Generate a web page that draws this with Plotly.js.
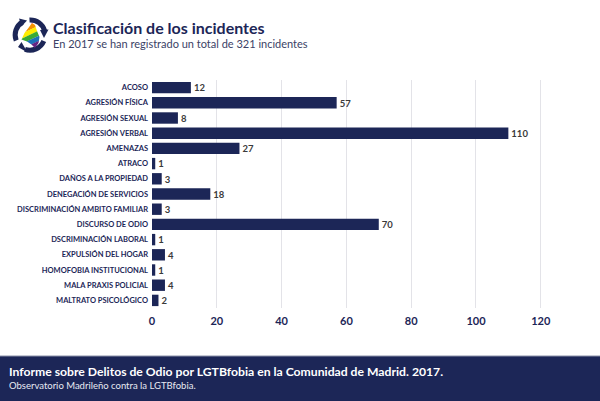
<!DOCTYPE html>
<html>
<head>
<meta charset="utf-8">
<script src="https://cdn.plot.ly/plotly-3.0.1.min.js"></script>
<style>
html,body{margin:0;padding:0;background:#fff;}
#chart{width:600px;height:401px;}
</style>
</head>
<body>
<div id="chart"></div>
<script>
const categories = [
  "ACOSO","AGRESIÓN FÍSICA","AGRESIÓN SEXUAL","AGRESIÓN VERBAL","AMENAZAS","ATRACO",
  "DAÑOS A LA PROPIEDAD","DENEGACIÓN DE SERVICIOS","DISCRIMINACIÓN AMBITO FAMILIAR",
  "DISCURSO DE ODIO","DSCRIMINACIÓN LABORAL","EXPULSIÓN DEL HOGAR",
  "HOMOFOBIA INSTITUCIONAL","MALA PRAXIS POLICIAL","MALTRATO PSICOLÓGICO"
];
const values = [12,57,8,110,27,1,3,18,3,70,1,4,1,4,2];
const xTicks = [0,20,40,60,80,100,120];

const NAVY = "#1c2657";
const L = 152, R = 544, T = 80, B = 308;
const W = 600, H = 401;
const px = x => (x - L) / (R - L);
const py = y => (B - y) / (B - T);

const stripeColors = ["#e52421","#f39200","#ffed00","#3aaa35","#1d71b8","#662483"];
const stripes = stripeColors.map((c, i) =>
  `<rect x="0" y="${6 + i * 4.6}" width="40" height="4.7" fill="${c}"/>`).join("");
const logoSvg = `<svg xmlns="http://www.w3.org/2000/svg" viewBox="0 0 40 40" width="40" height="40">
<defs>
<clipPath id="m"><polygon points="22,8 25,10 27,16 29.5,22 28.5,28 25,33 21.5,29.5 17,26.5 11.5,24.5 14.5,18 18,13.5"/></clipPath>
</defs>
<g fill="none" stroke="${NAVY}" stroke-width="5">
<path d="M 6.2 25.5 A 15 15 0 0 1 12.5 7"/>
<path d="M 19.5 5 A 15 15 0 0 1 34.7 16"/>
<path d="M 33.8 26 A 15 15 0 0 1 15 34.3"/>
</g>
<g fill="${NAVY}">
<polygon points="9,3.5 17,5.5 11.5,11.5"/>
<polygon points="34,23 38.5,14.5 30,15"/>
<polygon points="8,32 17.5,37.5 11.5,27"/>
</g>
<g clip-path="url(#m)"><g transform="rotate(-25 20 20)">${stripes}</g></g>
</svg>`;
const logoUri = "data:image/svg+xml;base64," + btoa(logoSvg);

const trace = {
  type: "bar",
  orientation: "h",
  x: values,
  y: categories,
  marker: { color: NAVY },
  text: values.map(String),
  textposition: "outside",
  cliponaxis: false,
  textfont: { family: "Lato, sans-serif", size: 10, color: "#3a3a3a", weight: 700 },
  hoverinfo: "x+y"
};

const layout = {
  width: W, height: H,
  margin: { l: L, r: W - R, t: T, b: H - B, pad: 0 },
  paper_bgcolor: "#ffffff",
  plot_bgcolor: "#ffffff",
  showlegend: false,
  bargap: 0.25,
  xaxis: {
    range: [0, 121],
    tickvals: xTicks,
    ticktext: xTicks.map(String),
    showgrid: true, gridcolor: "#e3e3e8", gridwidth: 1,
    zeroline: false, showline: false, ticks: "",
    ticklabelstandoff: 5,
    tickfont: { family: "Lato, sans-serif", size: 11, color: NAVY, weight: 700 },
    fixedrange: true
  },
  yaxis: {
    categoryorder: "array",
    categoryarray: categories,
    autorange: "reversed",
    showgrid: false, zeroline: false, showline: false, ticks: "",
    ticklabelstandoff: 3,
    tickfont: { family: "Lato, sans-serif", size: 7.5, color: NAVY, weight: 700 },
    fixedrange: true
  },
  images: [{
    source: logoUri, xref: "paper", yref: "paper",
    x: px(10), y: py(15), sizex: px(50) - px(10), sizey: py(15) - py(55),
    xanchor: "left", yanchor: "top", sizing: "contain", layer: "above"
  }],
  shapes: [
    { type: "rect", xref: "paper", yref: "paper", x0: px(0), x1: px(600), y0: py(401), y1: py(356),
      fillcolor: NAVY, line: { width: 0 }, layer: "below" },
    { type: "line", xref: "paper", yref: "paper", x0: px(0), x1: px(600), y0: py(356), y1: py(356),
      line: { color: "#8a90a8", width: 1 } }
  ],
  annotations: [
    { xref: "paper", yref: "paper", x: px(51), y: py(27), xanchor: "left", yanchor: "middle",
      text: "Clasificación de los incidentes", showarrow: false,
      font: { family: "Lato, sans-serif", size: 16, color: NAVY, weight: 700 } },
    { xref: "paper", yref: "paper", x: px(51), y: py(43), xanchor: "left", yanchor: "middle",
      text: "En 2017 se han registrado un total de 321 incidentes", showarrow: false,
      font: { family: "Lato, sans-serif", size: 11, color: "#3b4266" } },
    { xref: "paper", yref: "paper", x: px(7), y: py(371), xanchor: "left", yanchor: "middle",
      text: "Informe sobre Delitos de Odio por LGTBfobia en la Comunidad de Madrid. 2017.", showarrow: false,
      font: { family: "Lato, sans-serif", size: 12.2, color: "#ffffff", weight: 700 } },
    { xref: "paper", yref: "paper", x: px(7), y: py(385), xanchor: "left", yanchor: "middle",
      text: "Observatorio Madrileño contra la LGTBfobia.", showarrow: false,
      font: { family: "Lato, sans-serif", size: 9.5, color: "#e8eaf2" } }
  ]
};

Plotly.newPlot("chart", [trace], layout, { displayModeBar: false, staticPlot: true });
</script>
</body>
</html>
